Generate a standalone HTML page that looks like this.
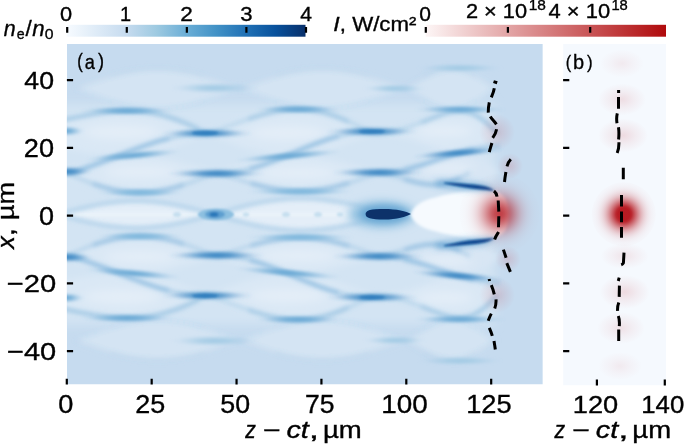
<!DOCTYPE html>
<html><head><meta charset="utf-8"><style>html,body{margin:0;padding:0;background:#fff;}svg{display:block;}</style></head>
<body><svg width="685" height="444" viewBox="0 0 685 444" font-family="Liberation Sans, sans-serif">
<defs><linearGradient id="gBlues" x1="0" x2="1" y1="0" y2="0">
<stop offset="0" stop-color="#f7fbff"/><stop offset="0.125" stop-color="#deebf7"/><stop offset="0.25" stop-color="#c6dbef"/>
<stop offset="0.375" stop-color="#9ecae1"/><stop offset="0.5" stop-color="#6baed6"/><stop offset="0.625" stop-color="#4292c6"/>
<stop offset="0.75" stop-color="#2171b5"/><stop offset="0.875" stop-color="#08519c"/><stop offset="1" stop-color="#08306b"/></linearGradient><linearGradient id="gReds" x1="0" x2="1" y1="0" y2="0">
<stop offset="0" stop-color="#fdf6f6"/><stop offset="1" stop-color="#b00a0c"/></linearGradient><clipPath id="clipA"><rect x="66.9" y="44.0" width="475.9" height="340.5"/></clipPath><clipPath id="clipB"><rect x="563.1" y="44.0" width="102.9" height="341.5"/></clipPath><filter id="bl5" x="-50%" y="-50%" width="200%" height="200%"><feGaussianBlur stdDeviation="5"/></filter><filter id="bl3" x="-50%" y="-50%" width="200%" height="200%"><feGaussianBlur stdDeviation="3"/></filter><filter id="bl2" x="-50%" y="-50%" width="200%" height="200%"><feGaussianBlur stdDeviation="2"/></filter><filter id="bl15" x="-50%" y="-50%" width="200%" height="200%"><feGaussianBlur stdDeviation="1.5"/></filter><filter id="bl1" x="-50%" y="-50%" width="200%" height="200%"><feGaussianBlur stdDeviation="1.1"/></filter><filter id="bl08" x="-50%" y="-50%" width="200%" height="200%"><feGaussianBlur stdDeviation="0.7"/></filter><radialGradient id="gRedA"><stop offset="0.000" stop-color="#b20a12" stop-opacity="0.780"/><stop offset="0.062" stop-color="#b20a12" stop-opacity="0.765"/><stop offset="0.125" stop-color="#b20a12" stop-opacity="0.720"/><stop offset="0.188" stop-color="#b20a12" stop-opacity="0.652"/><stop offset="0.250" stop-color="#b20a12" stop-opacity="0.566"/><stop offset="0.312" stop-color="#b20a12" stop-opacity="0.473"/><stop offset="0.375" stop-color="#b20a12" stop-opacity="0.380"/><stop offset="0.438" stop-color="#b20a12" stop-opacity="0.293"/><stop offset="0.500" stop-color="#b20a12" stop-opacity="0.217"/><stop offset="0.562" stop-color="#b20a12" stop-opacity="0.154"/><stop offset="0.625" stop-color="#b20a12" stop-opacity="0.106"/><stop offset="0.688" stop-color="#b20a12" stop-opacity="0.069"/><stop offset="0.750" stop-color="#b20a12" stop-opacity="0.044"/><stop offset="0.812" stop-color="#b20a12" stop-opacity="0.027"/><stop offset="0.875" stop-color="#b20a12" stop-opacity="0.015"/><stop offset="0.938" stop-color="#b20a12" stop-opacity="0.009"/><stop offset="1.000" stop-color="#b20a12" stop-opacity="0.005"/></radialGradient><radialGradient id="gRedF"><stop offset="0" stop-color="#c8141e" stop-opacity="0.14"/><stop offset="1" stop-color="#c8141e" stop-opacity="0"/></radialGradient><radialGradient id="gM"><stop offset="0" stop-color="#6aa9d5"/><stop offset="0.3" stop-color="#6aa9d5" stop-opacity="0.8"/><stop offset="0.6" stop-color="#6aa9d5" stop-opacity="0.35"/><stop offset="0.8" stop-color="#6aa9d5" stop-opacity="0.1"/><stop offset="1" stop-color="#6aa9d5" stop-opacity="0"/></radialGradient><radialGradient id="gD"><stop offset="0" stop-color="#3d88c4"/><stop offset="0.3" stop-color="#3d88c4" stop-opacity="0.8"/><stop offset="0.6" stop-color="#3d88c4" stop-opacity="0.35"/><stop offset="0.8" stop-color="#3d88c4" stop-opacity="0.1"/><stop offset="1" stop-color="#3d88c4" stop-opacity="0"/></radialGradient><radialGradient id="gL"><stop offset="0" stop-color="#7fb8dd"/><stop offset="0.3" stop-color="#7fb8dd" stop-opacity="0.8"/><stop offset="0.6" stop-color="#7fb8dd" stop-opacity="0.35"/><stop offset="0.8" stop-color="#7fb8dd" stop-opacity="0.1"/><stop offset="1" stop-color="#7fb8dd" stop-opacity="0"/></radialGradient><radialGradient id="gF"><stop offset="0" stop-color="#a3cbe5"/><stop offset="0.3" stop-color="#a3cbe5" stop-opacity="0.8"/><stop offset="0.6" stop-color="#a3cbe5" stop-opacity="0.35"/><stop offset="0.8" stop-color="#a3cbe5" stop-opacity="0.1"/><stop offset="1" stop-color="#a3cbe5" stop-opacity="0"/></radialGradient><radialGradient id="gRedB"><stop offset="0.000" stop-color="#b20a12" stop-opacity="0.930"/><stop offset="0.062" stop-color="#b20a12" stop-opacity="0.930"/><stop offset="0.125" stop-color="#b20a12" stop-opacity="0.930"/><stop offset="0.188" stop-color="#b20a12" stop-opacity="0.930"/><stop offset="0.250" stop-color="#b20a12" stop-opacity="0.870"/><stop offset="0.312" stop-color="#b20a12" stop-opacity="0.737"/><stop offset="0.375" stop-color="#b20a12" stop-opacity="0.601"/><stop offset="0.438" stop-color="#b20a12" stop-opacity="0.473"/><stop offset="0.500" stop-color="#b20a12" stop-opacity="0.358"/><stop offset="0.562" stop-color="#b20a12" stop-opacity="0.262"/><stop offset="0.625" stop-color="#b20a12" stop-opacity="0.184"/><stop offset="0.688" stop-color="#b20a12" stop-opacity="0.125"/><stop offset="0.750" stop-color="#b20a12" stop-opacity="0.082"/><stop offset="0.812" stop-color="#b20a12" stop-opacity="0.051"/><stop offset="0.875" stop-color="#b20a12" stop-opacity="0.031"/><stop offset="0.938" stop-color="#b20a12" stop-opacity="0.018"/><stop offset="1.000" stop-color="#b20a12" stop-opacity="0.010"/></radialGradient><radialGradient id="gRedBF"><stop offset="0" stop-color="#c0202a" stop-opacity="0.16"/><stop offset="0.5" stop-color="#c0202a" stop-opacity="0.07"/><stop offset="1" stop-color="#c0202a" stop-opacity="0"/></radialGradient></defs>
<rect width="685" height="444" fill="#fff"/>
<rect x="66.8" y="24.8" width="238.7" height="11.9" fill="url(#gBlues)"/><rect x="425.7" y="24.8" width="240.3" height="11.9" fill="url(#gReds)"/>
<g clip-path="url(#clipA)"><rect x="66.9" y="44.0" width="475.9" height="340.5" fill="#c6dbef"/><g filter="url(#bl5)"><rect x="50" y="104" width="445" height="220.8" fill="#d3e4f3"/></g><g filter="url(#bl3)"><path d="M75.0,88.0 L80.9,85.9 L86.8,83.8 L92.7,81.7 L98.6,79.8 L104.5,77.9 L110.4,76.2 L116.2,74.6 L122.1,73.1 L128.0,71.9 L133.9,70.9 L139.8,70.1 L145.7,69.5 L151.6,69.1 L157.5,69.0 L163.4,69.1 L169.3,69.5 L175.2,70.1 L181.1,70.9 L187.0,71.9 L192.9,73.1 L198.8,74.6 L204.6,76.2 L210.5,77.9 L216.4,79.8 L222.3,81.7 L228.2,83.8 L234.1,85.9 L240.0,88.0 L240.0,88.0 L234.1,90.4 L228.2,92.7 L222.3,94.9 L216.4,97.1 L210.5,99.2 L204.6,101.1 L198.8,102.8 L192.9,104.4 L187.0,105.8 L181.1,106.9 L175.2,107.8 L169.3,108.5 L163.4,108.9 L157.5,109.0 L151.6,108.9 L145.7,108.5 L139.8,107.8 L133.9,106.9 L128.0,105.8 L122.1,104.4 L116.2,102.8 L110.4,101.1 L104.5,99.2 L98.6,97.1 L92.7,94.9 L86.8,92.7 L80.9,90.4 L75.0,88.0 Z" fill="#d4e4f3"/><path d="M75.0,340.8 L80.9,342.9 L86.8,345.0 L92.7,347.1 L98.6,349.0 L104.5,350.9 L110.4,352.6 L116.2,354.2 L122.1,355.7 L128.0,356.9 L133.9,357.9 L139.8,358.7 L145.7,359.3 L151.6,359.7 L157.5,359.8 L163.4,359.7 L169.3,359.3 L175.2,358.7 L181.1,357.9 L187.0,356.9 L192.9,355.7 L198.8,354.2 L204.6,352.6 L210.5,350.9 L216.4,349.0 L222.3,347.1 L228.2,345.0 L234.1,342.9 L240.0,340.8 L240.0,340.8 L234.1,338.4 L228.2,336.1 L222.3,333.9 L216.4,331.7 L210.5,329.6 L204.6,327.7 L198.8,326.0 L192.9,324.4 L187.0,323.0 L181.1,321.9 L175.2,321.0 L169.3,320.3 L163.4,319.9 L157.5,319.8 L151.6,319.9 L145.7,320.3 L139.8,321.0 L133.9,321.9 L128.0,323.0 L122.1,324.4 L116.2,326.0 L110.4,327.7 L104.5,329.6 L98.6,331.7 L92.7,333.9 L86.8,336.1 L80.9,338.4 L75.0,340.8 Z" fill="#d4e4f3"/><path d="M240.0,88.0 L245.9,85.9 L251.8,83.8 L257.7,81.7 L263.6,79.8 L269.5,77.9 L275.4,76.2 L281.2,74.6 L287.1,73.1 L293.0,71.9 L298.9,70.9 L304.8,70.1 L310.7,69.5 L316.6,69.1 L322.5,69.0 L328.4,69.1 L334.3,69.5 L340.2,70.1 L346.1,70.9 L352.0,71.9 L357.9,73.1 L363.8,74.6 L369.6,76.2 L375.5,77.9 L381.4,79.8 L387.3,81.7 L393.2,83.8 L399.1,85.9 L405.0,88.0 L405.0,88.0 L399.1,90.4 L393.2,92.7 L387.3,94.9 L381.4,97.1 L375.5,99.2 L369.6,101.1 L363.8,102.8 L357.9,104.4 L352.0,105.8 L346.1,106.9 L340.2,107.8 L334.3,108.5 L328.4,108.9 L322.5,109.0 L316.6,108.9 L310.7,108.5 L304.8,107.8 L298.9,106.9 L293.0,105.8 L287.1,104.4 L281.2,102.8 L275.4,101.1 L269.5,99.2 L263.6,97.1 L257.7,94.9 L251.8,92.7 L245.9,90.4 L240.0,88.0 Z" fill="#d4e4f3"/><path d="M240.0,340.8 L245.9,342.9 L251.8,345.0 L257.7,347.1 L263.6,349.0 L269.5,350.9 L275.4,352.6 L281.2,354.2 L287.1,355.7 L293.0,356.9 L298.9,357.9 L304.8,358.7 L310.7,359.3 L316.6,359.7 L322.5,359.8 L328.4,359.7 L334.3,359.3 L340.2,358.7 L346.1,357.9 L352.0,356.9 L357.9,355.7 L363.8,354.2 L369.6,352.6 L375.5,350.9 L381.4,349.0 L387.3,347.1 L393.2,345.0 L399.1,342.9 L405.0,340.8 L405.0,340.8 L399.1,338.4 L393.2,336.1 L387.3,333.9 L381.4,331.7 L375.5,329.6 L369.6,327.7 L363.8,326.0 L357.9,324.4 L352.0,323.0 L346.1,321.9 L340.2,321.0 L334.3,320.3 L328.4,319.9 L322.5,319.8 L316.6,319.9 L310.7,320.3 L304.8,321.0 L298.9,321.9 L293.0,323.0 L287.1,324.4 L281.2,326.0 L275.4,327.7 L269.5,329.6 L263.6,331.7 L257.7,333.9 L251.8,336.1 L245.9,338.4 L240.0,340.8 Z" fill="#d4e4f3"/><path d="M405.0,88.0 L408.2,86.7 L411.4,85.2 L414.6,83.6 L417.9,81.9 L421.1,80.1 L424.3,78.5 L427.5,76.8 L430.7,75.3 L433.9,73.8 L437.1,72.5 L440.4,71.4 L443.6,70.5 L446.8,69.7 L450.0,69.3 L453.2,69.0 L456.4,69.0 L459.6,69.3 L462.9,69.9 L466.1,70.8 L469.3,71.9 L472.5,73.2 L475.7,74.8 L478.9,76.6 L482.1,78.7 L485.4,80.8 L488.6,83.1 L491.8,85.5 L495.0,88.0 L495.0,88.0 L491.8,90.7 L488.6,93.4 L485.4,95.9 L482.1,98.3 L478.9,100.6 L475.7,102.6 L472.5,104.3 L469.3,105.8 L466.1,107.1 L462.9,108.0 L459.6,108.6 L456.4,108.9 L453.2,109.0 L450.0,108.7 L446.8,108.2 L443.6,107.4 L440.4,106.4 L437.1,105.1 L433.9,103.7 L430.7,102.1 L427.5,100.4 L424.3,98.6 L421.1,96.7 L417.9,94.8 L414.6,92.9 L411.4,91.1 L408.2,89.4 L405.0,88.0 Z" fill="#d4e4f3"/><path d="M405.0,340.8 L408.2,342.1 L411.4,343.6 L414.6,345.2 L417.9,346.9 L421.1,348.7 L424.3,350.3 L427.5,352.0 L430.7,353.5 L433.9,355.0 L437.1,356.3 L440.4,357.4 L443.6,358.3 L446.8,359.1 L450.0,359.5 L453.2,359.8 L456.4,359.8 L459.6,359.5 L462.9,358.9 L466.1,358.0 L469.3,356.9 L472.5,355.6 L475.7,354.0 L478.9,352.2 L482.1,350.1 L485.4,348.0 L488.6,345.7 L491.8,343.3 L495.0,340.8 L495.0,340.8 L491.8,338.1 L488.6,335.4 L485.4,332.9 L482.1,330.5 L478.9,328.2 L475.7,326.2 L472.5,324.5 L469.3,323.0 L466.1,321.7 L462.9,320.8 L459.6,320.2 L456.4,319.9 L453.2,319.8 L450.0,320.1 L446.8,320.6 L443.6,321.4 L440.4,322.4 L437.1,323.7 L433.9,325.1 L430.7,326.7 L427.5,328.4 L424.3,330.2 L421.1,332.1 L417.9,334.0 L414.6,335.9 L411.4,337.7 L408.2,339.4 L405.0,340.8 Z" fill="#d4e4f3"/><path d="M-20.0,133.3 L-11.9,132.7 L-3.8,131.8 L4.3,130.6 L12.4,129.2 L20.5,127.7 L28.6,126.0 L36.8,124.3 L44.9,122.5 L53.0,120.8 L61.1,119.0 L69.2,117.4 L77.3,115.8 L85.4,114.4 L93.5,113.2 L101.6,112.3 L109.7,111.6 L117.8,111.3 L125.9,111.4 L134.0,111.8 L142.1,112.7 L150.2,114.0 L158.4,115.7 L166.5,117.8 L174.6,120.4 L182.7,123.2 L190.8,126.4 L198.9,129.8 L207.0,133.3 L207.0,133.3 L198.9,136.8 L190.8,140.2 L182.7,143.4 L174.6,146.2 L166.5,148.8 L158.4,150.9 L150.2,152.6 L142.1,153.9 L134.0,154.8 L125.9,155.2 L117.8,155.3 L109.7,155.0 L101.6,154.3 L93.5,153.4 L85.4,152.2 L77.3,150.8 L69.2,149.2 L61.1,147.6 L53.0,145.8 L44.9,144.1 L36.8,142.3 L28.6,140.6 L20.5,138.9 L12.4,137.4 L4.3,136.0 L-3.8,134.8 L-11.9,133.9 L-20.0,133.3 Z" fill="#dae8f5"/><path d="M-20.0,295.5 L-11.9,296.1 L-3.8,297.0 L4.3,298.2 L12.4,299.6 L20.5,301.1 L28.6,302.8 L36.8,304.5 L44.9,306.3 L53.0,308.0 L61.1,309.8 L69.2,311.4 L77.3,313.0 L85.4,314.4 L93.5,315.6 L101.6,316.5 L109.7,317.2 L117.8,317.5 L125.9,317.4 L134.0,317.0 L142.1,316.1 L150.2,314.8 L158.4,313.1 L166.5,311.0 L174.6,308.4 L182.7,305.6 L190.8,302.4 L198.9,299.0 L207.0,295.5 L207.0,295.5 L198.9,292.0 L190.8,288.6 L182.7,285.4 L174.6,282.6 L166.5,280.0 L158.4,277.9 L150.2,276.2 L142.1,274.9 L134.0,274.0 L125.9,273.6 L117.8,273.5 L109.7,273.8 L101.6,274.5 L93.5,275.4 L85.4,276.6 L77.3,278.0 L69.2,279.6 L61.1,281.2 L53.0,283.0 L44.9,284.7 L36.8,286.5 L28.6,288.2 L20.5,289.9 L12.4,291.4 L4.3,292.8 L-3.8,294.0 L-11.9,294.9 L-20.0,295.5 Z" fill="#dae8f5"/><path d="M207.0,133.3 L212.9,130.6 L218.8,128.0 L224.7,125.4 L230.6,122.9 L236.5,120.5 L242.4,118.3 L248.2,116.3 L254.1,114.5 L260.0,113.0 L265.9,111.7 L271.8,110.6 L277.7,109.9 L283.6,109.5 L289.5,109.3 L295.4,109.5 L301.3,109.9 L307.2,110.6 L313.1,111.7 L319.0,113.0 L324.9,114.5 L330.8,116.3 L336.6,118.3 L342.5,120.5 L348.4,122.9 L354.3,125.4 L360.2,128.0 L366.1,130.6 L372.0,133.3 L372.0,133.3 L366.1,135.8 L360.2,138.2 L354.3,140.6 L348.4,142.8 L342.5,145.0 L336.6,147.0 L330.8,148.9 L324.9,150.5 L319.0,151.9 L313.1,153.1 L307.2,154.1 L301.3,154.7 L295.4,155.2 L289.5,155.3 L283.6,155.2 L277.7,154.7 L271.8,154.1 L265.9,153.1 L260.0,151.9 L254.1,150.5 L248.2,148.9 L242.4,147.0 L236.5,145.0 L230.6,142.8 L224.7,140.6 L218.8,138.2 L212.9,135.8 L207.0,133.3 Z" fill="#dae8f5"/><path d="M207.0,295.5 L212.9,298.2 L218.8,300.8 L224.7,303.4 L230.6,305.9 L236.5,308.3 L242.4,310.5 L248.2,312.5 L254.1,314.3 L260.0,315.8 L265.9,317.1 L271.8,318.2 L277.7,318.9 L283.6,319.3 L289.5,319.5 L295.4,319.3 L301.3,318.9 L307.2,318.2 L313.1,317.1 L319.0,315.8 L324.9,314.3 L330.8,312.5 L336.6,310.5 L342.5,308.3 L348.4,305.9 L354.3,303.4 L360.2,300.8 L366.1,298.2 L372.0,295.5 L372.0,295.5 L366.1,293.0 L360.2,290.6 L354.3,288.2 L348.4,286.0 L342.5,283.8 L336.6,281.8 L330.8,279.9 L324.9,278.3 L319.0,276.9 L313.1,275.7 L307.2,274.7 L301.3,274.1 L295.4,273.6 L289.5,273.5 L283.6,273.6 L277.7,274.1 L271.8,274.7 L265.9,275.7 L260.0,276.9 L254.1,278.3 L248.2,279.9 L242.4,281.8 L236.5,283.8 L230.6,286.0 L224.7,288.2 L218.8,290.6 L212.9,293.0 L207.0,295.5 Z" fill="#dae8f5"/><path d="M372.0,133.3 L376.5,133.2 L380.9,132.9 L385.4,132.3 L389.9,131.6 L394.3,130.7 L398.8,129.5 L403.2,128.2 L407.7,126.8 L412.2,125.2 L416.6,123.4 L421.1,121.6 L425.6,119.6 L430.0,117.7 L434.5,115.8 L439.0,114.0 L443.4,112.4 L447.9,111.0 L452.4,110.0 L456.8,109.4 L461.3,109.3 L465.8,109.9 L470.2,111.2 L474.7,113.1 L479.1,115.9 L483.6,119.3 L488.1,123.5 L492.5,128.2 L497.0,133.3 L497.0,133.3 L492.5,137.6 L488.1,141.5 L483.6,144.9 L479.1,147.8 L474.7,150.1 L470.2,151.8 L465.8,152.8 L461.3,153.3 L456.8,153.2 L452.4,152.7 L447.9,151.9 L443.4,150.7 L439.0,149.4 L434.5,147.9 L430.0,146.3 L425.6,144.7 L421.1,143.1 L416.6,141.5 L412.2,140.1 L407.7,138.7 L403.2,137.5 L398.8,136.4 L394.3,135.5 L389.9,134.7 L385.4,134.1 L380.9,133.7 L376.5,133.4 L372.0,133.3 Z" fill="#dae8f5"/><path d="M372.0,295.5 L376.5,295.6 L380.9,295.9 L385.4,296.5 L389.9,297.2 L394.3,298.1 L398.8,299.3 L403.2,300.6 L407.7,302.0 L412.2,303.6 L416.6,305.4 L421.1,307.2 L425.6,309.2 L430.0,311.1 L434.5,313.0 L439.0,314.8 L443.4,316.4 L447.9,317.8 L452.4,318.8 L456.8,319.4 L461.3,319.5 L465.8,318.9 L470.2,317.6 L474.7,315.7 L479.1,312.9 L483.6,309.5 L488.1,305.3 L492.5,300.6 L497.0,295.5 L497.0,295.5 L492.5,291.2 L488.1,287.3 L483.6,283.9 L479.1,281.0 L474.7,278.7 L470.2,277.0 L465.8,276.0 L461.3,275.5 L456.8,275.6 L452.4,276.1 L447.9,276.9 L443.4,278.1 L439.0,279.4 L434.5,280.9 L430.0,282.5 L425.6,284.1 L421.1,285.7 L416.6,287.3 L412.2,288.7 L407.7,290.1 L403.2,291.3 L398.8,292.4 L394.3,293.3 L389.9,294.1 L385.4,294.7 L380.9,295.1 L376.5,295.4 L372.0,295.5 Z" fill="#dae8f5"/><path d="M58.0,172.8 L63.6,170.9 L69.3,169.0 L74.9,167.2 L80.6,165.4 L86.2,163.8 L91.9,162.2 L97.5,160.8 L103.1,159.5 L108.8,158.4 L114.4,157.5 L120.1,156.8 L125.7,156.2 L131.4,155.9 L137.0,155.8 L142.6,155.9 L148.3,156.2 L153.9,156.8 L159.6,157.5 L165.2,158.4 L170.9,159.5 L176.5,160.8 L182.1,162.2 L187.8,163.8 L193.4,165.4 L199.1,167.2 L204.7,169.0 L210.4,170.9 L216.0,172.8 L216.0,172.8 L210.4,175.0 L204.7,177.3 L199.1,179.4 L193.4,181.5 L187.8,183.4 L182.1,185.3 L176.5,186.9 L170.9,188.4 L165.2,189.7 L159.6,190.8 L153.9,191.7 L148.3,192.3 L142.6,192.7 L137.0,192.8 L131.4,192.7 L125.7,192.3 L120.1,191.7 L114.4,190.8 L108.8,189.7 L103.1,188.4 L97.5,186.9 L91.9,185.3 L86.2,183.4 L80.6,181.5 L74.9,179.4 L69.3,177.3 L63.6,175.0 L58.0,172.8 Z" fill="#dae8f5"/><path d="M58.0,256.0 L63.6,257.9 L69.3,259.8 L74.9,261.6 L80.6,263.4 L86.2,265.0 L91.9,266.6 L97.5,268.0 L103.1,269.3 L108.8,270.4 L114.4,271.3 L120.1,272.0 L125.7,272.6 L131.4,272.9 L137.0,273.0 L142.6,272.9 L148.3,272.6 L153.9,272.0 L159.6,271.3 L165.2,270.4 L170.9,269.3 L176.5,268.0 L182.1,266.6 L187.8,265.0 L193.4,263.4 L199.1,261.6 L204.7,259.8 L210.4,257.9 L216.0,256.0 L216.0,256.0 L210.4,253.8 L204.7,251.5 L199.1,249.4 L193.4,247.3 L187.8,245.4 L182.1,243.5 L176.5,241.9 L170.9,240.4 L165.2,239.1 L159.6,238.0 L153.9,237.1 L148.3,236.5 L142.6,236.1 L137.0,236.0 L131.4,236.1 L125.7,236.5 L120.1,237.1 L114.4,238.0 L108.8,239.1 L103.1,240.4 L97.5,241.9 L91.9,243.5 L86.2,245.4 L80.6,247.3 L74.9,249.4 L69.3,251.5 L63.6,253.8 L58.0,256.0 Z" fill="#dae8f5"/><path d="M216.0,173.3 L221.8,170.9 L227.6,168.7 L233.4,166.6 L239.1,164.7 L244.9,162.9 L250.7,161.3 L256.5,159.8 L262.3,158.5 L268.1,157.5 L273.9,156.6 L279.6,156.0 L285.4,155.5 L291.2,155.3 L297.0,155.3 L302.8,155.6 L308.6,156.0 L314.4,156.7 L320.1,157.5 L325.9,158.5 L331.7,159.7 L337.5,161.1 L343.3,162.6 L349.1,164.2 L354.9,165.9 L360.6,167.7 L366.4,169.5 L372.2,171.4 L378.0,173.3 L378.0,173.3 L372.2,175.3 L366.4,177.2 L360.6,179.1 L354.9,180.9 L349.1,182.7 L343.3,184.3 L337.5,185.9 L331.7,187.3 L325.9,188.5 L320.1,189.5 L314.4,190.4 L308.6,191.1 L302.8,191.5 L297.0,191.8 L291.2,191.8 L285.4,191.6 L279.6,191.1 L273.9,190.5 L268.1,189.6 L262.3,188.5 L256.5,187.2 L250.7,185.7 L244.9,184.0 L239.1,182.2 L233.4,180.2 L227.6,178.1 L221.8,175.8 L216.0,173.3 Z" fill="#dae8f5"/><path d="M216.0,255.5 L221.8,257.9 L227.6,260.1 L233.4,262.2 L239.1,264.1 L244.9,265.9 L250.7,267.5 L256.5,269.0 L262.3,270.3 L268.1,271.3 L273.9,272.2 L279.6,272.8 L285.4,273.3 L291.2,273.5 L297.0,273.5 L302.8,273.2 L308.6,272.8 L314.4,272.1 L320.1,271.3 L325.9,270.3 L331.7,269.1 L337.5,267.7 L343.3,266.2 L349.1,264.6 L354.9,262.9 L360.6,261.1 L366.4,259.3 L372.2,257.4 L378.0,255.5 L378.0,255.5 L372.2,253.5 L366.4,251.6 L360.6,249.7 L354.9,247.9 L349.1,246.1 L343.3,244.5 L337.5,242.9 L331.7,241.5 L325.9,240.3 L320.1,239.3 L314.4,238.4 L308.6,237.7 L302.8,237.3 L297.0,237.0 L291.2,237.0 L285.4,237.2 L279.6,237.7 L273.9,238.3 L268.1,239.2 L262.3,240.3 L256.5,241.6 L250.7,243.1 L244.9,244.8 L239.1,246.6 L233.4,248.6 L227.6,250.7 L221.8,253.0 L216.0,255.5 Z" fill="#dae8f5"/><path d="M378.0,172.8 L382.4,172.7 L386.7,172.3 L391.1,171.7 L395.4,171.0 L399.8,170.1 L404.1,169.1 L408.5,167.9 L412.9,166.6 L417.2,165.3 L421.6,163.8 L425.9,162.3 L430.3,160.8 L434.6,159.3 L439.0,157.9 L443.4,156.6 L447.7,155.5 L452.1,154.6 L456.4,154.0 L460.8,153.8 L465.1,154.0 L469.5,154.7 L473.9,155.8 L478.2,157.5 L482.6,159.7 L486.9,162.4 L491.3,165.5 L495.6,169.0 L500.0,172.8 L500.0,172.8 L495.6,174.8 L491.3,176.6 L486.9,178.3 L482.6,179.7 L478.2,180.8 L473.9,181.7 L469.5,182.3 L465.1,182.7 L460.8,182.8 L456.4,182.7 L452.1,182.4 L447.7,181.9 L443.4,181.3 L439.0,180.7 L434.6,179.9 L430.3,179.1 L425.9,178.3 L421.6,177.5 L417.2,176.8 L412.9,176.0 L408.5,175.4 L404.1,174.8 L399.8,174.2 L395.4,173.7 L391.1,173.4 L386.7,173.1 L382.4,172.9 L378.0,172.8 Z" fill="#d8e6f4"/><path d="M378.0,256.0 L382.4,256.1 L386.7,256.5 L391.1,257.1 L395.4,257.8 L399.8,258.7 L404.1,259.7 L408.5,260.9 L412.9,262.2 L417.2,263.5 L421.6,265.0 L425.9,266.5 L430.3,268.0 L434.6,269.5 L439.0,270.9 L443.4,272.2 L447.7,273.3 L452.1,274.2 L456.4,274.8 L460.8,275.0 L465.1,274.8 L469.5,274.1 L473.9,273.0 L478.2,271.3 L482.6,269.1 L486.9,266.4 L491.3,263.3 L495.6,259.8 L500.0,256.0 L500.0,256.0 L495.6,254.0 L491.3,252.2 L486.9,250.5 L482.6,249.1 L478.2,248.0 L473.9,247.1 L469.5,246.5 L465.1,246.1 L460.8,246.0 L456.4,246.1 L452.1,246.4 L447.7,246.9 L443.4,247.5 L439.0,248.1 L434.6,248.9 L430.3,249.7 L425.9,250.5 L421.6,251.3 L417.2,252.0 L412.9,252.8 L408.5,253.4 L404.1,254.0 L399.8,254.6 L395.4,255.1 L391.1,255.4 L386.7,255.7 L382.4,255.9 L378.0,256.0 Z" fill="#d8e6f4"/><path d="M58.0,214.4 L63.6,212.9 L69.1,211.4 L74.7,209.9 L80.3,208.5 L85.9,207.2 L91.4,206.0 L97.0,204.9 L102.6,203.8 L108.1,203.0 L113.7,202.2 L119.3,201.7 L124.9,201.2 L130.4,201.0 L136.0,200.9 L141.6,201.0 L147.1,201.2 L152.7,201.7 L158.3,202.2 L163.9,203.0 L169.4,203.8 L175.0,204.9 L180.6,206.0 L186.1,207.2 L191.7,208.5 L197.3,209.9 L202.9,211.4 L208.4,212.9 L214.0,214.4 L214.0,214.4 L208.4,215.9 L202.9,217.4 L197.3,218.9 L191.7,220.3 L186.1,221.6 L180.6,222.8 L175.0,223.9 L169.4,225.0 L163.9,225.8 L158.3,226.6 L152.7,227.1 L147.1,227.6 L141.6,227.8 L136.0,227.9 L130.4,227.8 L124.9,227.6 L119.3,227.1 L113.7,226.6 L108.1,225.8 L102.6,225.0 L97.0,223.9 L91.4,222.8 L85.9,221.6 L80.3,220.3 L74.7,218.9 L69.1,217.4 L63.6,215.9 L58.0,214.4 Z" fill="#e4eef8"/><path d="M214.0,214.4 L220.2,212.6 L226.4,210.8 L232.6,209.1 L238.9,207.5 L245.1,205.9 L251.3,204.4 L257.5,203.1 L263.7,201.9 L269.9,200.9 L276.1,200.0 L282.4,199.3 L288.6,198.8 L294.8,198.5 L301.0,198.4 L307.2,198.5 L313.4,198.8 L319.6,199.3 L325.9,200.0 L332.1,200.9 L338.3,201.9 L344.5,203.1 L350.7,204.4 L356.9,205.9 L363.1,207.5 L369.4,209.1 L375.6,210.8 L381.8,212.6 L388.0,214.4 L388.0,214.4 L381.8,216.2 L375.6,218.0 L369.4,219.7 L363.1,221.3 L356.9,222.9 L350.7,224.4 L344.5,225.7 L338.3,226.9 L332.1,227.9 L325.9,228.8 L319.6,229.5 L313.4,230.0 L307.2,230.3 L301.0,230.4 L294.8,230.3 L288.6,230.0 L282.4,229.5 L276.1,228.8 L269.9,227.9 L263.7,226.9 L257.5,225.7 L251.3,224.4 L245.1,222.9 L238.9,221.3 L232.6,219.7 L226.4,218.0 L220.2,216.2 L214.0,214.4 Z" fill="#e4eef8"/><path d="M-100.0,214.4 L-94.4,213.1 L-88.7,211.7 L-83.1,210.4 L-77.4,209.2 L-71.8,208.0 L-66.1,206.9 L-60.5,205.9 L-54.9,205.0 L-49.2,204.2 L-43.6,203.6 L-37.9,203.1 L-32.3,202.7 L-26.6,202.5 L-21.0,202.4 L-15.4,202.5 L-9.7,202.7 L-4.1,203.1 L1.6,203.6 L7.2,204.2 L12.9,205.0 L18.5,205.9 L24.1,206.9 L29.8,208.0 L35.4,209.2 L41.1,210.4 L46.7,211.7 L52.4,213.1 L58.0,214.4 L58.0,214.4 L52.4,215.7 L46.7,217.1 L41.1,218.4 L35.4,219.6 L29.8,220.8 L24.1,221.9 L18.5,222.9 L12.9,223.8 L7.2,224.6 L1.6,225.2 L-4.1,225.7 L-9.7,226.1 L-15.4,226.3 L-21.0,226.4 L-26.6,226.3 L-32.3,226.1 L-37.9,225.7 L-43.6,225.2 L-49.2,224.6 L-54.9,223.8 L-60.5,222.9 L-66.1,221.9 L-71.8,220.8 L-77.4,219.6 L-83.1,218.4 L-88.7,217.1 L-94.4,215.7 L-100.0,214.4 Z" fill="#e4eef8"/></g><g filter="url(#bl5)"><ellipse cx="122.0" cy="132.0" rx="38.0" ry="7.0" fill="#e4eef8"/><ellipse cx="122.0" cy="296.8" rx="38.0" ry="7.0" fill="#e4eef8"/><ellipse cx="288.0" cy="133.0" rx="38.0" ry="7.0" fill="#e4eef8"/><ellipse cx="288.0" cy="295.8" rx="38.0" ry="7.0" fill="#e4eef8"/><ellipse cx="445.0" cy="131.0" rx="28.0" ry="6.0" fill="#e4eef8"/><ellipse cx="445.0" cy="297.8" rx="28.0" ry="6.0" fill="#e4eef8"/><ellipse cx="140.0" cy="172.0" rx="36.0" ry="6.0" fill="#e4eef8"/><ellipse cx="140.0" cy="256.8" rx="36.0" ry="6.0" fill="#e4eef8"/><ellipse cx="298.0" cy="173.0" rx="38.0" ry="6.0" fill="#e4eef8"/><ellipse cx="298.0" cy="255.8" rx="38.0" ry="6.0" fill="#e4eef8"/><ellipse cx="447.0" cy="168.0" rx="26.0" ry="5.0" fill="#e4eef8"/><ellipse cx="447.0" cy="260.8" rx="26.0" ry="5.0" fill="#e4eef8"/></g><g filter="url(#bl15)"><rect x="60" y="212.6" width="300" height="3.6" fill="#f0f6fc" fill-opacity="0.6"/></g><g filter="url(#bl2)" stroke="#5a9fd0" stroke-width="4" fill="none"><path d="M75.0,88.0 L80.9,85.9 L86.8,83.8 L92.7,81.7 L98.6,79.8 L104.5,77.9 L110.4,76.2 L116.2,74.6 L122.1,73.1 L128.0,71.9 L133.9,70.9 L139.8,70.1 L145.7,69.5 L151.6,69.1 L157.5,69.0 L163.4,69.1 L169.3,69.5 L175.2,70.1 L181.1,70.9 L187.0,71.9 L192.9,73.1 L198.8,74.6 L204.6,76.2 L210.5,77.9 L216.4,79.8 L222.3,81.7 L228.2,83.8 L234.1,85.9 L240.0,88.0" stroke-opacity="0.04"/><path d="M75.0,340.8 L80.9,342.9 L86.8,345.0 L92.7,347.1 L98.6,349.0 L104.5,350.9 L110.4,352.6 L116.2,354.2 L122.1,355.7 L128.0,356.9 L133.9,357.9 L139.8,358.7 L145.7,359.3 L151.6,359.7 L157.5,359.8 L163.4,359.7 L169.3,359.3 L175.2,358.7 L181.1,357.9 L187.0,356.9 L192.9,355.7 L198.8,354.2 L204.6,352.6 L210.5,350.9 L216.4,349.0 L222.3,347.1 L228.2,345.0 L234.1,342.9 L240.0,340.8" stroke-opacity="0.04"/><path d="M110.4,76.2 L116.2,74.6 L122.1,73.1 L128.0,71.9 L133.9,70.9 L139.8,70.1 L145.7,69.5 L151.6,69.1 L157.5,69.0 L163.4,69.1 L169.3,69.5 L175.2,70.1 L181.1,70.9 L187.0,71.9 L192.9,73.1 L198.8,74.6 L204.6,76.2" stroke-opacity="0.04" stroke-width="4.5"/><path d="M110.4,352.6 L116.2,354.2 L122.1,355.7 L128.0,356.9 L133.9,357.9 L139.8,358.7 L145.7,359.3 L151.6,359.7 L157.5,359.8 L163.4,359.7 L169.3,359.3 L175.2,358.7 L181.1,357.9 L187.0,356.9 L192.9,355.7 L198.8,354.2 L204.6,352.6" stroke-opacity="0.04" stroke-width="4.5"/><path d="M75.0,88.0 L80.9,90.4 L86.8,92.7 L92.7,94.9 L98.6,97.1 L104.5,99.2 L110.4,101.1 L116.2,102.8 L122.1,104.4 L128.0,105.8 L133.9,106.9 L139.8,107.8 L145.7,108.5 L151.6,108.9 L157.5,109.0 L163.4,108.9 L169.3,108.5 L175.2,107.8 L181.1,106.9 L187.0,105.8 L192.9,104.4 L198.8,102.8 L204.6,101.1 L210.5,99.2 L216.4,97.1 L222.3,94.9 L228.2,92.7 L234.1,90.4 L240.0,88.0" stroke-opacity="0.03"/><path d="M75.0,340.8 L80.9,338.4 L86.8,336.1 L92.7,333.9 L98.6,331.7 L104.5,329.6 L110.4,327.7 L116.2,326.0 L122.1,324.4 L128.0,323.0 L133.9,321.9 L139.8,321.0 L145.7,320.3 L151.6,319.9 L157.5,319.8 L163.4,319.9 L169.3,320.3 L175.2,321.0 L181.1,321.9 L187.0,323.0 L192.9,324.4 L198.8,326.0 L204.6,327.7 L210.5,329.6 L216.4,331.7 L222.3,333.9 L228.2,336.1 L234.1,338.4 L240.0,340.8" stroke-opacity="0.03"/><path d="M110.4,101.1 L116.2,102.8 L122.1,104.4 L128.0,105.8 L133.9,106.9 L139.8,107.8 L145.7,108.5 L151.6,108.9 L157.5,109.0 L163.4,108.9 L169.3,108.5 L175.2,107.8 L181.1,106.9 L187.0,105.8 L192.9,104.4 L198.8,102.8 L204.6,101.1" stroke-opacity="0.03" stroke-width="4.5"/><path d="M110.4,327.7 L116.2,326.0 L122.1,324.4 L128.0,323.0 L133.9,321.9 L139.8,321.0 L145.7,320.3 L151.6,319.9 L157.5,319.8 L163.4,319.9 L169.3,320.3 L175.2,321.0 L181.1,321.9 L187.0,323.0 L192.9,324.4 L198.8,326.0 L204.6,327.7" stroke-opacity="0.03" stroke-width="4.5"/><path d="M240.0,88.0 L245.9,85.9 L251.8,83.8 L257.7,81.7 L263.6,79.8 L269.5,77.9 L275.4,76.2 L281.2,74.6 L287.1,73.1 L293.0,71.9 L298.9,70.9 L304.8,70.1 L310.7,69.5 L316.6,69.1 L322.5,69.0 L328.4,69.1 L334.3,69.5 L340.2,70.1 L346.1,70.9 L352.0,71.9 L357.9,73.1 L363.8,74.6 L369.6,76.2 L375.5,77.9 L381.4,79.8 L387.3,81.7 L393.2,83.8 L399.1,85.9 L405.0,88.0" stroke-opacity="0.04"/><path d="M240.0,340.8 L245.9,342.9 L251.8,345.0 L257.7,347.1 L263.6,349.0 L269.5,350.9 L275.4,352.6 L281.2,354.2 L287.1,355.7 L293.0,356.9 L298.9,357.9 L304.8,358.7 L310.7,359.3 L316.6,359.7 L322.5,359.8 L328.4,359.7 L334.3,359.3 L340.2,358.7 L346.1,357.9 L352.0,356.9 L357.9,355.7 L363.8,354.2 L369.6,352.6 L375.5,350.9 L381.4,349.0 L387.3,347.1 L393.2,345.0 L399.1,342.9 L405.0,340.8" stroke-opacity="0.04"/><path d="M275.4,76.2 L281.2,74.6 L287.1,73.1 L293.0,71.9 L298.9,70.9 L304.8,70.1 L310.7,69.5 L316.6,69.1 L322.5,69.0 L328.4,69.1 L334.3,69.5 L340.2,70.1 L346.1,70.9 L352.0,71.9 L357.9,73.1 L363.8,74.6 L369.6,76.2" stroke-opacity="0.04" stroke-width="4.5"/><path d="M275.4,352.6 L281.2,354.2 L287.1,355.7 L293.0,356.9 L298.9,357.9 L304.8,358.7 L310.7,359.3 L316.6,359.7 L322.5,359.8 L328.4,359.7 L334.3,359.3 L340.2,358.7 L346.1,357.9 L352.0,356.9 L357.9,355.7 L363.8,354.2 L369.6,352.6" stroke-opacity="0.04" stroke-width="4.5"/><path d="M240.0,88.0 L245.9,90.4 L251.8,92.7 L257.7,94.9 L263.6,97.1 L269.5,99.2 L275.4,101.1 L281.2,102.8 L287.1,104.4 L293.0,105.8 L298.9,106.9 L304.8,107.8 L310.7,108.5 L316.6,108.9 L322.5,109.0 L328.4,108.9 L334.3,108.5 L340.2,107.8 L346.1,106.9 L352.0,105.8 L357.9,104.4 L363.8,102.8 L369.6,101.1 L375.5,99.2 L381.4,97.1 L387.3,94.9 L393.2,92.7 L399.1,90.4 L405.0,88.0" stroke-opacity="0.03"/><path d="M240.0,340.8 L245.9,338.4 L251.8,336.1 L257.7,333.9 L263.6,331.7 L269.5,329.6 L275.4,327.7 L281.2,326.0 L287.1,324.4 L293.0,323.0 L298.9,321.9 L304.8,321.0 L310.7,320.3 L316.6,319.9 L322.5,319.8 L328.4,319.9 L334.3,320.3 L340.2,321.0 L346.1,321.9 L352.0,323.0 L357.9,324.4 L363.8,326.0 L369.6,327.7 L375.5,329.6 L381.4,331.7 L387.3,333.9 L393.2,336.1 L399.1,338.4 L405.0,340.8" stroke-opacity="0.03"/><path d="M275.4,101.1 L281.2,102.8 L287.1,104.4 L293.0,105.8 L298.9,106.9 L304.8,107.8 L310.7,108.5 L316.6,108.9 L322.5,109.0 L328.4,108.9 L334.3,108.5 L340.2,107.8 L346.1,106.9 L352.0,105.8 L357.9,104.4 L363.8,102.8 L369.6,101.1" stroke-opacity="0.03" stroke-width="4.5"/><path d="M275.4,327.7 L281.2,326.0 L287.1,324.4 L293.0,323.0 L298.9,321.9 L304.8,321.0 L310.7,320.3 L316.6,319.9 L322.5,319.8 L328.4,319.9 L334.3,320.3 L340.2,321.0 L346.1,321.9 L352.0,323.0 L357.9,324.4 L363.8,326.0 L369.6,327.7" stroke-opacity="0.03" stroke-width="4.5"/><path d="M405.0,88.0 L408.2,85.9 L411.4,83.8 L414.6,81.7 L417.9,79.8 L421.1,77.9 L424.3,76.2 L427.5,74.6 L430.7,73.1 L433.9,71.9 L437.1,70.9 L440.4,70.1 L443.6,69.5 L446.8,69.1 L450.0,69.0 L453.2,69.1 L456.4,69.5 L459.6,70.1 L462.9,70.9 L466.1,71.9 L469.3,73.1 L472.5,74.6 L475.7,76.2 L478.9,77.9 L482.1,79.8 L485.4,81.7 L488.6,83.8 L491.8,85.9 L495.0,88.0" stroke-opacity="0.04"/><path d="M405.0,340.8 L408.2,342.9 L411.4,345.0 L414.6,347.1 L417.9,349.0 L421.1,350.9 L424.3,352.6 L427.5,354.2 L430.7,355.7 L433.9,356.9 L437.1,357.9 L440.4,358.7 L443.6,359.3 L446.8,359.7 L450.0,359.8 L453.2,359.7 L456.4,359.3 L459.6,358.7 L462.9,357.9 L466.1,356.9 L469.3,355.7 L472.5,354.2 L475.7,352.6 L478.9,350.9 L482.1,349.0 L485.4,347.1 L488.6,345.0 L491.8,342.9 L495.0,340.8" stroke-opacity="0.04"/><path d="M424.3,76.2 L427.5,74.6 L430.7,73.1 L433.9,71.9 L437.1,70.9 L440.4,70.1 L443.6,69.5 L446.8,69.1 L450.0,69.0 L453.2,69.1 L456.4,69.5 L459.6,70.1 L462.9,70.9 L466.1,71.9 L469.3,73.1 L472.5,74.6 L475.7,76.2" stroke-opacity="0.04" stroke-width="4.5"/><path d="M424.3,352.6 L427.5,354.2 L430.7,355.7 L433.9,356.9 L437.1,357.9 L440.4,358.7 L443.6,359.3 L446.8,359.7 L450.0,359.8 L453.2,359.7 L456.4,359.3 L459.6,358.7 L462.9,357.9 L466.1,356.9 L469.3,355.7 L472.5,354.2 L475.7,352.6" stroke-opacity="0.04" stroke-width="4.5"/><path d="M405.0,88.0 L408.2,90.4 L411.4,92.7 L414.6,94.9 L417.9,97.1 L421.1,99.2 L424.3,101.1 L427.5,102.8 L430.7,104.4 L433.9,105.8 L437.1,106.9 L440.4,107.8 L443.6,108.5 L446.8,108.9 L450.0,109.0 L453.2,108.9 L456.4,108.5 L459.6,107.8 L462.9,106.9 L466.1,105.8 L469.3,104.4 L472.5,102.8 L475.7,101.1 L478.9,99.2 L482.1,97.1 L485.4,94.9 L488.6,92.7 L491.8,90.4 L495.0,88.0" stroke-opacity="0.03"/><path d="M405.0,340.8 L408.2,338.4 L411.4,336.1 L414.6,333.9 L417.9,331.7 L421.1,329.6 L424.3,327.7 L427.5,326.0 L430.7,324.4 L433.9,323.0 L437.1,321.9 L440.4,321.0 L443.6,320.3 L446.8,319.9 L450.0,319.8 L453.2,319.9 L456.4,320.3 L459.6,321.0 L462.9,321.9 L466.1,323.0 L469.3,324.4 L472.5,326.0 L475.7,327.7 L478.9,329.6 L482.1,331.7 L485.4,333.9 L488.6,336.1 L491.8,338.4 L495.0,340.8" stroke-opacity="0.03"/><path d="M424.3,101.1 L427.5,102.8 L430.7,104.4 L433.9,105.8 L437.1,106.9 L440.4,107.8 L443.6,108.5 L446.8,108.9 L450.0,109.0 L453.2,108.9 L456.4,108.5 L459.6,107.8 L462.9,106.9 L466.1,105.8 L469.3,104.4 L472.5,102.8 L475.7,101.1" stroke-opacity="0.03" stroke-width="4.5"/><path d="M424.3,327.7 L427.5,326.0 L430.7,324.4 L433.9,323.0 L437.1,321.9 L440.4,321.0 L443.6,320.3 L446.8,319.9 L450.0,319.8 L453.2,319.9 L456.4,320.3 L459.6,321.0 L462.9,321.9 L466.1,323.0 L469.3,324.4 L472.5,326.0 L475.7,327.7" stroke-opacity="0.03" stroke-width="4.5"/><path d="M-20.0,133.3 L-11.9,133.0 L-3.8,132.3 L4.3,131.4 L12.4,130.2 L20.5,128.9 L28.6,127.4 L36.8,125.8 L44.9,124.2 L53.0,122.4 L61.1,120.6 L69.2,118.8 L77.3,117.1 L85.4,115.5 L93.5,114.0 L101.6,112.8 L109.7,111.8 L117.8,111.1 L125.9,110.8 L134.0,110.9 L142.1,111.5 L150.2,112.6 L158.4,114.2 L166.5,116.4 L174.6,119.0 L182.7,122.0 L190.8,125.5 L198.9,129.3 L207.0,133.3" stroke-opacity="0.21"/><path d="M-20.0,295.5 L-11.9,295.8 L-3.8,296.5 L4.3,297.4 L12.4,298.6 L20.5,299.9 L28.6,301.4 L36.8,303.0 L44.9,304.6 L53.0,306.4 L61.1,308.2 L69.2,310.0 L77.3,311.7 L85.4,313.3 L93.5,314.8 L101.6,316.0 L109.7,317.0 L117.8,317.7 L125.9,318.0 L134.0,317.9 L142.1,317.3 L150.2,316.2 L158.4,314.6 L166.5,312.4 L174.6,309.8 L182.7,306.8 L190.8,303.3 L198.9,299.5 L207.0,295.5" stroke-opacity="0.21"/><path d="M61.1,120.6 L69.2,118.8 L77.3,117.1 L85.4,115.5 L93.5,114.0 L101.6,112.8 L109.7,111.8 L117.8,111.1 L125.9,110.8 L134.0,110.9 L142.1,111.5 L150.2,112.6 L158.4,114.2 L166.5,116.4 L174.6,119.0 L182.7,122.0 L190.8,125.5 L198.9,129.3" stroke-opacity="0.23" stroke-width="4.5"/><path d="M61.1,308.2 L69.2,310.0 L77.3,311.7 L85.4,313.3 L93.5,314.8 L101.6,316.0 L109.7,317.0 L117.8,317.7 L125.9,318.0 L134.0,317.9 L142.1,317.3 L150.2,316.2 L158.4,314.6 L166.5,312.4 L174.6,309.8 L182.7,306.8 L190.8,303.3 L198.9,299.5" stroke-opacity="0.23" stroke-width="4.5"/><path d="M207.0,133.3 L212.9,131.7 L218.8,129.8 L224.7,127.7 L230.6,125.5 L236.5,123.4 L242.4,121.2 L248.2,119.2 L254.1,117.2 L260.0,115.4 L265.9,113.7 L271.8,112.3 L277.7,111.1 L283.6,110.2 L289.5,109.6 L295.4,109.3 L301.3,109.4 L307.2,109.7 L313.1,110.5 L319.0,111.5 L324.9,112.9 L330.8,114.6 L336.6,116.7 L342.5,119.0 L348.4,121.5 L354.3,124.2 L360.2,127.2 L366.1,130.2 L372.0,133.3" stroke-opacity="0.21"/><path d="M207.0,295.5 L212.9,297.1 L218.8,299.0 L224.7,301.1 L230.6,303.3 L236.5,305.4 L242.4,307.6 L248.2,309.6 L254.1,311.6 L260.0,313.4 L265.9,315.1 L271.8,316.5 L277.7,317.7 L283.6,318.6 L289.5,319.2 L295.4,319.5 L301.3,319.4 L307.2,319.1 L313.1,318.3 L319.0,317.3 L324.9,315.9 L330.8,314.2 L336.6,312.1 L342.5,309.8 L348.4,307.3 L354.3,304.6 L360.2,301.6 L366.1,298.6 L372.0,295.5" stroke-opacity="0.21"/><path d="M248.2,119.2 L254.1,117.2 L260.0,115.4 L265.9,113.7 L271.8,112.3 L277.7,111.1 L283.6,110.2 L289.5,109.6 L295.4,109.3 L301.3,109.4 L307.2,109.7 L313.1,110.5 L319.0,111.5 L324.9,112.9 L330.8,114.6 L336.6,116.7 L342.5,119.0 L348.4,121.5" stroke-opacity="0.23" stroke-width="4.5"/><path d="M248.2,309.6 L254.1,311.6 L260.0,313.4 L265.9,315.1 L271.8,316.5 L277.7,317.7 L283.6,318.6 L289.5,319.2 L295.4,319.5 L301.3,319.4 L307.2,319.1 L313.1,318.3 L319.0,317.3 L324.9,315.9 L330.8,314.2 L336.6,312.1 L342.5,309.8 L348.4,307.3" stroke-opacity="0.23" stroke-width="4.5"/><path d="M372.0,133.3 L376.5,133.2 L380.9,132.9 L385.4,132.4 L389.9,131.7 L394.3,130.9 L398.8,129.9 L403.2,128.7 L407.7,127.3 L412.2,125.8 L416.6,124.2 L421.1,122.5 L425.6,120.8 L430.0,119.0 L434.5,117.3 L439.0,115.6 L443.4,114.1 L447.9,112.9 L452.4,111.9 L456.8,111.4 L461.3,111.3 L465.8,111.9 L470.2,113.0 L474.7,114.8 L479.1,117.3 L483.6,120.5 L488.1,124.3 L492.5,128.6 L497.0,133.3" stroke-opacity="0.21"/><path d="M372.0,295.5 L376.5,295.6 L380.9,295.9 L385.4,296.4 L389.9,297.1 L394.3,297.9 L398.8,298.9 L403.2,300.1 L407.7,301.5 L412.2,303.0 L416.6,304.6 L421.1,306.3 L425.6,308.0 L430.0,309.8 L434.5,311.5 L439.0,313.2 L443.4,314.7 L447.9,315.9 L452.4,316.9 L456.8,317.4 L461.3,317.5 L465.8,316.9 L470.2,315.8 L474.7,314.0 L479.1,311.5 L483.6,308.3 L488.1,304.5 L492.5,300.2 L497.0,295.5" stroke-opacity="0.21"/><path d="M421.1,122.5 L425.6,120.8 L430.0,119.0 L434.5,117.3 L439.0,115.6 L443.4,114.1 L447.9,112.9 L452.4,111.9 L456.8,111.4 L461.3,111.3 L465.8,111.9 L470.2,113.0 L474.7,114.8 L479.1,117.3 L483.6,120.5 L488.1,124.3 L492.5,128.6 L497.0,133.3" stroke-opacity="0.23" stroke-width="4.5"/><path d="M421.1,306.3 L425.6,308.0 L430.0,309.8 L434.5,311.5 L439.0,313.2 L443.4,314.7 L447.9,315.9 L452.4,316.9 L456.8,317.4 L461.3,317.5 L465.8,316.9 L470.2,315.8 L474.7,314.0 L479.1,311.5 L483.6,308.3 L488.1,304.5 L492.5,300.2 L497.0,295.5" stroke-opacity="0.23" stroke-width="4.5"/><path d="M30.0,178.0 L36.3,177.9 L42.6,177.4 L49.0,176.7 L55.3,175.8 L61.6,174.6 L67.9,173.1 L74.2,171.5 L80.6,169.6 L86.9,167.5 L93.2,165.3 L99.5,163.0 L105.9,160.6 L112.2,158.2 L118.5,155.7 L124.8,153.1 L131.1,150.7 L137.5,148.3 L143.8,146.0 L150.1,143.8 L156.4,141.7 L162.8,139.8 L169.1,138.2 L175.4,136.7 L181.7,135.5 L188.0,134.6 L194.4,133.9 L200.7,133.4 L207.0,133.3" stroke-opacity="0.30"/><path d="M30.0,250.8 L36.3,250.9 L42.6,251.4 L49.0,252.1 L55.3,253.0 L61.6,254.2 L67.9,255.7 L74.2,257.3 L80.6,259.2 L86.9,261.3 L93.2,263.5 L99.5,265.8 L105.9,268.2 L112.2,270.6 L118.5,273.1 L124.8,275.7 L131.1,278.1 L137.5,280.5 L143.8,282.8 L150.1,285.0 L156.4,287.1 L162.8,289.0 L169.1,290.6 L175.4,292.1 L181.7,293.3 L188.0,294.2 L194.4,294.9 L200.7,295.4 L207.0,295.5" stroke-opacity="0.30"/><path d="M67.9,173.1 L74.2,171.5 L80.6,169.6 L86.9,167.5 L93.2,165.3 L99.5,163.0 L105.9,160.6 L112.2,158.2 L118.5,155.7 L124.8,153.1 L131.1,150.7 L137.5,148.3 L143.8,146.0 L150.1,143.8 L156.4,141.7 L162.8,139.8 L169.1,138.2" stroke-opacity="0.33" stroke-width="4.5"/><path d="M67.9,255.7 L74.2,257.3 L80.6,259.2 L86.9,261.3 L93.2,263.5 L99.5,265.8 L105.9,268.2 L112.2,270.6 L118.5,273.1 L124.8,275.7 L131.1,278.1 L137.5,280.5 L143.8,282.8 L150.1,285.0 L156.4,287.1 L162.8,289.0 L169.1,290.6" stroke-opacity="0.33" stroke-width="4.5"/><path d="M216.0,173.5 L221.6,173.4 L227.1,173.0 L232.7,172.3 L238.3,171.4 L243.9,170.3 L249.4,168.9 L255.0,167.3 L260.6,165.6 L266.1,163.7 L271.7,161.6 L277.3,159.4 L282.9,157.2 L288.4,154.9 L294.0,152.5 L299.6,150.1 L305.1,147.8 L310.7,145.6 L316.3,143.4 L321.9,141.3 L327.4,139.4 L333.0,137.7 L338.6,136.1 L344.1,134.7 L349.7,133.6 L355.3,132.7 L360.9,132.0 L366.4,131.6 L372.0,131.5" stroke-opacity="0.30"/><path d="M216.0,255.3 L221.6,255.4 L227.1,255.8 L232.7,256.5 L238.3,257.4 L243.9,258.5 L249.4,259.9 L255.0,261.5 L260.6,263.2 L266.1,265.1 L271.7,267.2 L277.3,269.4 L282.9,271.6 L288.4,273.9 L294.0,276.3 L299.6,278.7 L305.1,281.0 L310.7,283.2 L316.3,285.4 L321.9,287.5 L327.4,289.4 L333.0,291.1 L338.6,292.7 L344.1,294.1 L349.7,295.2 L355.3,296.1 L360.9,296.8 L366.4,297.2 L372.0,297.3" stroke-opacity="0.30"/><path d="M249.4,168.9 L255.0,167.3 L260.6,165.6 L266.1,163.7 L271.7,161.6 L277.3,159.4 L282.9,157.2 L288.4,154.9 L294.0,152.5 L299.6,150.1 L305.1,147.8 L310.7,145.6 L316.3,143.4 L321.9,141.3 L327.4,139.4 L333.0,137.7 L338.6,136.1" stroke-opacity="0.33" stroke-width="4.5"/><path d="M249.4,259.9 L255.0,261.5 L260.6,263.2 L266.1,265.1 L271.7,267.2 L277.3,269.4 L282.9,271.6 L288.4,273.9 L294.0,276.3 L299.6,278.7 L305.1,281.0 L310.7,283.2 L316.3,285.4 L321.9,287.5 L327.4,289.4 L333.0,291.1 L338.6,292.7" stroke-opacity="0.33" stroke-width="4.5"/><path d="M378.0,172.5 L382.4,172.4 L386.7,172.2 L391.1,171.8 L395.4,171.2 L399.8,170.5 L404.1,169.6 L408.5,168.6 L412.9,167.5 L417.2,166.3 L421.6,165.0 L425.9,163.6 L430.3,162.2 L434.6,160.7 L439.0,159.2 L443.4,157.8 L447.7,156.3 L452.1,154.9 L456.4,153.5 L460.8,152.2 L465.1,151.0 L469.5,149.9 L473.9,148.9 L478.2,148.0 L482.6,147.3 L486.9,146.7 L491.3,146.3 L495.6,146.1 L500.0,146.0" stroke-opacity="0.30"/><path d="M378.0,256.3 L382.4,256.4 L386.7,256.6 L391.1,257.0 L395.4,257.6 L399.8,258.3 L404.1,259.2 L408.5,260.2 L412.9,261.3 L417.2,262.5 L421.6,263.8 L425.9,265.2 L430.3,266.6 L434.6,268.1 L439.0,269.6 L443.4,271.0 L447.7,272.5 L452.1,273.9 L456.4,275.3 L460.8,276.6 L465.1,277.8 L469.5,278.9 L473.9,279.9 L478.2,280.8 L482.6,281.5 L486.9,282.1 L491.3,282.5 L495.6,282.7 L500.0,282.8" stroke-opacity="0.30"/><path d="M404.1,169.6 L408.5,168.6 L412.9,167.5 L417.2,166.3 L421.6,165.0 L425.9,163.6 L430.3,162.2 L434.6,160.7 L439.0,159.2 L443.4,157.8 L447.7,156.3 L452.1,154.9 L456.4,153.5 L460.8,152.2 L465.1,151.0 L469.5,149.9 L473.9,148.9" stroke-opacity="0.33" stroke-width="4.5"/><path d="M404.1,259.2 L408.5,260.2 L412.9,261.3 L417.2,262.5 L421.6,263.8 L425.9,265.2 L430.3,266.6 L434.6,268.1 L439.0,269.6 L443.4,271.0 L447.7,272.5 L452.1,273.9 L456.4,275.3 L460.8,276.6 L465.1,277.8 L469.5,278.9 L473.9,279.9" stroke-opacity="0.33" stroke-width="4.5"/><path d="M-84.0,172.5 L-78.6,174.6 L-73.3,176.7 L-67.9,178.8 L-62.6,180.7 L-57.2,182.6 L-51.9,184.3 L-46.5,185.9 L-41.1,187.4 L-35.8,188.6 L-30.4,189.6 L-25.1,190.4 L-19.7,191.0 L-14.4,191.4 L-9.0,191.5 L-3.6,191.4 L1.7,191.0 L7.1,190.4 L12.4,189.6 L17.8,188.6 L23.1,187.4 L28.5,185.9 L33.9,184.3 L39.2,182.6 L44.6,180.7 L49.9,178.8 L55.3,176.7 L60.6,174.6 L66.0,172.5" stroke-opacity="0.25"/><path d="M-84.0,256.3 L-78.6,254.2 L-73.3,252.1 L-67.9,250.0 L-62.6,248.1 L-57.2,246.2 L-51.9,244.5 L-46.5,242.9 L-41.1,241.4 L-35.8,240.2 L-30.4,239.2 L-25.1,238.4 L-19.7,237.8 L-14.4,237.4 L-9.0,237.3 L-3.6,237.4 L1.7,237.8 L7.1,238.4 L12.4,239.2 L17.8,240.2 L23.1,241.4 L28.5,242.9 L33.9,244.5 L39.2,246.2 L44.6,248.1 L49.9,250.0 L55.3,252.1 L60.6,254.2 L66.0,256.3" stroke-opacity="0.25"/><path d="M-51.9,184.3 L-46.5,185.9 L-41.1,187.4 L-35.8,188.6 L-30.4,189.6 L-25.1,190.4 L-19.7,191.0 L-14.4,191.4 L-9.0,191.5 L-3.6,191.4 L1.7,191.0 L7.1,190.4 L12.4,189.6 L17.8,188.6 L23.1,187.4 L28.5,185.9 L33.9,184.3" stroke-opacity="0.28" stroke-width="4.5"/><path d="M-51.9,244.5 L-46.5,242.9 L-41.1,241.4 L-35.8,240.2 L-30.4,239.2 L-25.1,238.4 L-19.7,237.8 L-14.4,237.4 L-9.0,237.3 L-3.6,237.4 L1.7,237.8 L7.1,238.4 L12.4,239.2 L17.8,240.2 L23.1,241.4 L28.5,242.9 L33.9,244.5" stroke-opacity="0.28" stroke-width="4.5"/><path d="M66.0,172.5 L71.4,175.0 L76.7,177.3 L82.1,179.5 L87.4,181.6 L92.8,183.6 L98.1,185.4 L103.5,187.1 L108.9,188.5 L114.2,189.8 L119.6,190.8 L124.9,191.6 L130.3,192.1 L135.6,192.4 L141.0,192.5 L146.4,192.3 L151.7,191.9 L157.1,191.2 L162.4,190.3 L167.8,189.2 L173.1,187.9 L178.5,186.4 L183.9,184.7 L189.2,182.9 L194.6,181.0 L199.9,178.9 L205.3,176.8 L210.6,174.7 L216.0,172.5" stroke-opacity="0.25"/><path d="M66.0,256.3 L71.4,253.8 L76.7,251.5 L82.1,249.3 L87.4,247.2 L92.8,245.2 L98.1,243.4 L103.5,241.7 L108.9,240.3 L114.2,239.0 L119.6,238.0 L124.9,237.2 L130.3,236.7 L135.6,236.4 L141.0,236.3 L146.4,236.5 L151.7,236.9 L157.1,237.6 L162.4,238.5 L167.8,239.6 L173.1,240.9 L178.5,242.4 L183.9,244.1 L189.2,245.9 L194.6,247.8 L199.9,249.9 L205.3,252.0 L210.6,254.1 L216.0,256.3" stroke-opacity="0.25"/><path d="M92.8,183.6 L98.1,185.4 L103.5,187.1 L108.9,188.5 L114.2,189.8 L119.6,190.8 L124.9,191.6 L130.3,192.1 L135.6,192.4 L141.0,192.5 L146.4,192.3 L151.7,191.9 L157.1,191.2 L162.4,190.3 L167.8,189.2 L173.1,187.9 L178.5,186.4 L183.9,184.7" stroke-opacity="0.28" stroke-width="4.5"/><path d="M92.8,245.2 L98.1,243.4 L103.5,241.7 L108.9,240.3 L114.2,239.0 L119.6,238.0 L124.9,237.2 L130.3,236.7 L135.6,236.4 L141.0,236.3 L146.4,236.5 L151.7,236.9 L157.1,237.6 L162.4,238.5 L167.8,239.6 L173.1,240.9 L178.5,242.4 L183.9,244.1" stroke-opacity="0.28" stroke-width="4.5"/><path d="M216.0,172.5 L221.8,174.2 L227.6,176.0 L233.4,177.9 L239.1,179.7 L244.9,181.5 L250.7,183.2 L256.5,184.7 L262.3,186.2 L268.1,187.5 L273.9,188.6 L279.6,189.5 L285.4,190.2 L291.2,190.7 L297.0,191.0 L302.8,191.0 L308.6,190.7 L314.4,190.3 L320.1,189.6 L325.9,188.6 L331.7,187.5 L337.5,186.1 L343.3,184.5 L349.1,182.8 L354.9,180.9 L360.6,178.9 L366.4,176.8 L372.2,174.7 L378.0,172.5" stroke-opacity="0.25"/><path d="M216.0,256.3 L221.8,254.6 L227.6,252.8 L233.4,250.9 L239.1,249.1 L244.9,247.3 L250.7,245.6 L256.5,244.1 L262.3,242.6 L268.1,241.3 L273.9,240.2 L279.6,239.3 L285.4,238.6 L291.2,238.1 L297.0,237.8 L302.8,237.8 L308.6,238.1 L314.4,238.5 L320.1,239.2 L325.9,240.2 L331.7,241.3 L337.5,242.7 L343.3,244.3 L349.1,246.0 L354.9,247.9 L360.6,249.9 L366.4,252.0 L372.2,254.1 L378.0,256.3" stroke-opacity="0.25"/><path d="M250.7,183.2 L256.5,184.7 L262.3,186.2 L268.1,187.5 L273.9,188.6 L279.6,189.5 L285.4,190.2 L291.2,190.7 L297.0,191.0 L302.8,191.0 L308.6,190.7 L314.4,190.3 L320.1,189.6 L325.9,188.6 L331.7,187.5 L337.5,186.1 L343.3,184.5 L349.1,182.8" stroke-opacity="0.28" stroke-width="4.5"/><path d="M250.7,245.6 L256.5,244.1 L262.3,242.6 L268.1,241.3 L273.9,240.2 L279.6,239.3 L285.4,238.6 L291.2,238.1 L297.0,237.8 L302.8,237.8 L308.6,238.1 L314.4,238.5 L320.1,239.2 L325.9,240.2 L331.7,241.3 L337.5,242.7 L343.3,244.3 L349.1,246.0" stroke-opacity="0.28" stroke-width="4.5"/><path d="M378.0,172.5 L381.3,172.9 L384.6,173.5 L387.9,174.3 L391.1,175.2 L394.4,176.1 L397.7,177.0 L401.0,178.0 L404.3,179.0 L407.6,180.0 L410.9,180.9 L414.1,181.8 L417.4,182.6 L420.7,183.2 L424.0,183.8 L427.3,184.2 L430.6,184.4 L433.9,184.5 L437.1,184.4 L440.4,184.0 L443.7,183.5 L447.0,182.7 L450.3,181.7 L453.6,180.6 L456.9,179.2 L460.1,177.7 L463.4,176.1 L466.7,174.3 L470.0,172.5" stroke-opacity="0.25"/><path d="M378.0,256.3 L381.3,255.9 L384.6,255.3 L387.9,254.5 L391.1,253.6 L394.4,252.7 L397.7,251.8 L401.0,250.8 L404.3,249.8 L407.6,248.8 L410.9,247.9 L414.1,247.0 L417.4,246.2 L420.7,245.6 L424.0,245.0 L427.3,244.6 L430.6,244.4 L433.9,244.3 L437.1,244.4 L440.4,244.8 L443.7,245.3 L447.0,246.1 L450.3,247.1 L453.6,248.2 L456.9,249.6 L460.1,251.1 L463.4,252.7 L466.7,254.5 L470.0,256.3" stroke-opacity="0.25"/><path d="M404.3,179.0 L407.6,180.0 L410.9,180.9 L414.1,181.8 L417.4,182.6 L420.7,183.2 L424.0,183.8 L427.3,184.2 L430.6,184.4 L433.9,184.5 L437.1,184.4 L440.4,184.0 L443.7,183.5 L447.0,182.7 L450.3,181.7 L453.6,180.6 L456.9,179.2 L460.1,177.7" stroke-opacity="0.28" stroke-width="4.5"/><path d="M404.3,249.8 L407.6,248.8 L410.9,247.9 L414.1,247.0 L417.4,246.2 L420.7,245.6 L424.0,245.0 L427.3,244.6 L430.6,244.4 L433.9,244.3 L437.1,244.4 L440.4,244.8 L443.7,245.3 L447.0,246.1 L450.3,247.1 L453.6,248.2 L456.9,249.6 L460.1,251.1" stroke-opacity="0.28" stroke-width="4.5"/><path d="M58.0,214.4 L63.6,212.9 L69.1,211.4 L74.7,209.9 L80.3,208.5 L85.9,207.2 L91.4,206.0 L97.0,204.9 L102.6,203.8 L108.1,203.0 L113.7,202.2 L119.3,201.7 L124.9,201.2 L130.4,201.0 L136.0,200.9 L141.6,201.0 L147.1,201.2 L152.7,201.7 L158.3,202.2 L163.9,203.0 L169.4,203.8 L175.0,204.9 L180.6,206.0 L186.1,207.2 L191.7,208.5 L197.3,209.9 L202.9,211.4 L208.4,212.9 L214.0,214.4" stroke-opacity="0.3"/><path d="M58.0,214.4 L63.6,215.9 L69.1,217.4 L74.7,218.9 L80.3,220.3 L85.9,221.6 L91.4,222.8 L97.0,223.9 L102.6,225.0 L108.1,225.8 L113.7,226.6 L119.3,227.1 L124.9,227.6 L130.4,227.8 L136.0,227.9 L141.6,227.8 L147.1,227.6 L152.7,227.1 L158.3,226.6 L163.9,225.8 L169.4,225.0 L175.0,223.9 L180.6,222.8 L186.1,221.6 L191.7,220.3 L197.3,218.9 L202.9,217.4 L208.4,215.9 L214.0,214.4" stroke-opacity="0.3"/><path d="M214.0,214.4 L220.2,212.6 L226.4,210.8 L232.6,209.1 L238.9,207.5 L245.1,205.9 L251.3,204.4 L257.5,203.1 L263.7,201.9 L269.9,200.9 L276.1,200.0 L282.4,199.3 L288.6,198.8 L294.8,198.5 L301.0,198.4 L307.2,198.5 L313.4,198.8 L319.6,199.3 L325.9,200.0 L332.1,200.9 L338.3,201.9 L344.5,203.1 L350.7,204.4 L356.9,205.9 L363.1,207.5 L369.4,209.1 L375.6,210.8 L381.8,212.6 L388.0,214.4" stroke-opacity="0.3"/><path d="M214.0,214.4 L220.2,216.2 L226.4,218.0 L232.6,219.7 L238.9,221.3 L245.1,222.9 L251.3,224.4 L257.5,225.7 L263.7,226.9 L269.9,227.9 L276.1,228.8 L282.4,229.5 L288.6,230.0 L294.8,230.3 L301.0,230.4 L307.2,230.3 L313.4,230.0 L319.6,229.5 L325.9,228.8 L332.1,227.9 L338.3,226.9 L344.5,225.7 L350.7,224.4 L356.9,222.9 L363.1,221.3 L369.4,219.7 L375.6,218.0 L381.8,216.2 L388.0,214.4" stroke-opacity="0.3"/><path d="M-100.0,214.4 L-94.4,213.1 L-88.7,211.7 L-83.1,210.4 L-77.4,209.2 L-71.8,208.0 L-66.1,206.9 L-60.5,205.9 L-54.9,205.0 L-49.2,204.2 L-43.6,203.6 L-37.9,203.1 L-32.3,202.7 L-26.6,202.5 L-21.0,202.4 L-15.4,202.5 L-9.7,202.7 L-4.1,203.1 L1.6,203.6 L7.2,204.2 L12.9,205.0 L18.5,205.9 L24.1,206.9 L29.8,208.0 L35.4,209.2 L41.1,210.4 L46.7,211.7 L52.4,213.1 L58.0,214.4" stroke-opacity="0.3"/><path d="M-100.0,214.4 L-94.4,215.7 L-88.7,217.1 L-83.1,218.4 L-77.4,219.6 L-71.8,220.8 L-66.1,221.9 L-60.5,222.9 L-54.9,223.8 L-49.2,224.6 L-43.6,225.2 L-37.9,225.7 L-32.3,226.1 L-26.6,226.3 L-21.0,226.4 L-15.4,226.3 L-9.7,226.1 L-4.1,225.7 L1.6,225.2 L7.2,224.6 L12.9,223.8 L18.5,222.9 L24.1,221.9 L29.8,220.8 L35.4,219.6 L41.1,218.4 L46.7,217.1 L52.4,215.7 L58.0,214.4" stroke-opacity="0.3"/></g><g filter="url(#bl1)"><ellipse cx="127.0" cy="110.8" rx="45.9" ry="5.2" fill="url(#gM)"/><ellipse cx="127.0" cy="318.0" rx="45.9" ry="5.2" fill="url(#gM)"/><ellipse cx="298.0" cy="109.3" rx="43.2" ry="5.2" fill="url(#gM)"/><ellipse cx="298.0" cy="319.5" rx="43.2" ry="5.2" fill="url(#gM)"/><ellipse cx="460.0" cy="109.5" rx="45.9" ry="5.2" fill="url(#gM)"/><ellipse cx="460.0" cy="319.3" rx="45.9" ry="5.2" fill="url(#gM)"/><ellipse cx="133.0" cy="155.5" rx="48.6" ry="5.2" fill="url(#gM)" transform="rotate(-5.0 133.0 155.5)"/><ellipse cx="133.0" cy="273.3" rx="48.6" ry="5.2" fill="url(#gM)" transform="rotate(5.0 133.0 273.3)"/><ellipse cx="288.0" cy="156.0" rx="54.0" ry="5.2" fill="url(#gM)" transform="rotate(-5.0 288.0 156.0)"/><ellipse cx="288.0" cy="272.8" rx="54.0" ry="5.2" fill="url(#gM)" transform="rotate(5.0 288.0 272.8)"/><ellipse cx="458.0" cy="153.0" rx="45.9" ry="5.2" fill="url(#gD)" transform="rotate(-5.0 458.0 153.0)"/><ellipse cx="458.0" cy="275.8" rx="45.9" ry="5.2" fill="url(#gD)" transform="rotate(5.0 458.0 275.8)"/><ellipse cx="140.0" cy="192.5" rx="43.2" ry="5.2" fill="url(#gL)"/><ellipse cx="140.0" cy="236.3" rx="43.2" ry="5.2" fill="url(#gL)"/><ellipse cx="300.0" cy="191.5" rx="54.0" ry="5.2" fill="url(#gL)"/><ellipse cx="300.0" cy="237.3" rx="54.0" ry="5.2" fill="url(#gL)"/><ellipse cx="207.0" cy="133.3" rx="45.9" ry="5.8" fill="url(#gD)"/><ellipse cx="207.0" cy="295.5" rx="45.9" ry="5.8" fill="url(#gD)"/><ellipse cx="372.0" cy="131.5" rx="45.9" ry="5.8" fill="url(#gD)"/><ellipse cx="372.0" cy="297.3" rx="45.9" ry="5.8" fill="url(#gD)"/><ellipse cx="66.0" cy="131.0" rx="18.9" ry="5.8" fill="url(#gM)"/><ellipse cx="66.0" cy="297.8" rx="18.9" ry="5.8" fill="url(#gM)"/><ellipse cx="66.0" cy="171.5" rx="27.0" ry="5.8" fill="url(#gD)"/><ellipse cx="66.0" cy="257.3" rx="27.0" ry="5.8" fill="url(#gD)"/><ellipse cx="216.0" cy="173.5" rx="48.6" ry="5.8" fill="url(#gD)"/><ellipse cx="216.0" cy="255.3" rx="48.6" ry="5.8" fill="url(#gD)"/><ellipse cx="378.0" cy="172.5" rx="45.9" ry="5.8" fill="url(#gD)"/><ellipse cx="378.0" cy="256.3" rx="45.9" ry="5.8" fill="url(#gD)"/><ellipse cx="215.0" cy="88.0" rx="45.9" ry="6.3" fill="url(#gF)"/><ellipse cx="215.0" cy="340.8" rx="45.9" ry="6.3" fill="url(#gF)"/><ellipse cx="395.0" cy="88.5" rx="32.4" ry="5.2" fill="url(#gF)"/><ellipse cx="395.0" cy="340.3" rx="32.4" ry="5.2" fill="url(#gF)"/><ellipse cx="460.0" cy="68.0" rx="43.2" ry="5.2" fill="url(#gF)"/><ellipse cx="460.0" cy="360.8" rx="43.2" ry="5.2" fill="url(#gF)"/></g><g filter="url(#bl1)"><ellipse cx="205.0" cy="133.0" rx="13.0" ry="1.6" fill="#2f7dbd"/><ellipse cx="205.0" cy="295.8" rx="13.0" ry="1.6" fill="#2f7dbd"/><ellipse cx="372.0" cy="131.5" rx="13.0" ry="1.6" fill="#2f7dbd"/><ellipse cx="372.0" cy="297.3" rx="13.0" ry="1.6" fill="#2f7dbd"/><ellipse cx="216.0" cy="214.4" rx="18.0" ry="6.0" fill="#8cbfe0"/><ellipse cx="215.0" cy="214.4" rx="10.0" ry="4.0" fill="#5d9fd0"/><ellipse cx="214.0" cy="214.4" rx="4.5" ry="2.5" fill="#2a78b9"/><ellipse cx="177.0" cy="214.4" rx="4.0" ry="2.5" fill="#a4cbe5" fill-opacity="0.5"/><ellipse cx="246.0" cy="214.4" rx="3.2" ry="2.0" fill="#a4cbe5" fill-opacity="0.5"/><ellipse cx="286.0" cy="214.4" rx="4.0" ry="2.5" fill="#a4cbe5" fill-opacity="0.5"/><ellipse cx="318.0" cy="214.4" rx="4.0" ry="2.5" fill="#a4cbe5" fill-opacity="0.5"/><ellipse cx="340.0" cy="214.4" rx="3.2" ry="2.0" fill="#a4cbe5" fill-opacity="0.5"/></g><g filter="url(#bl5)"><ellipse cx="382.0" cy="214.4" rx="34.0" ry="13.0" fill="#8fc0e0"/></g><path d="M410.0,214.4 L412.0,210.5 L415.0,207.0 L418.0,204.6 L422.0,202.0 L427.0,199.8 L432.0,198.3 L436.0,197.2 L442.0,195.6 L448.0,194.2 L454.0,193.0 L460.0,192.0 L466.0,191.3 L472.0,190.9 L480.0,190.6 L488.0,190.6 L494.0,191.4 L500.0,193.5 L505.0,198.0 L507.5,205.0 L508.5,214.4 L508.5,214.4 L507.5,223.8 L505.0,230.8 L500.0,235.3 L494.0,237.4 L488.0,238.2 L480.0,238.2 L472.0,237.9 L466.0,237.5 L460.0,236.8 L454.0,235.8 L448.0,234.6 L442.0,233.2 L436.0,231.6 L432.0,230.5 L427.0,229.0 L422.0,226.8 L418.0,224.2 L415.0,221.8 L412.0,218.3 L410.0,214.4 Z" fill="#f6fafe" filter="url(#bl15)"/><g filter="url(#bl3)" fill="#4d95cb" fill-opacity="0.6"><path d="M436,180 C452,180.5 468,181.5 482,184 C489,185.5 493,188 496,192 C490,191.5 482,191 474,190.5 C462,189.5 450,188 436,186 Z"/><path d="M436,180 C452,180.5 468,181.5 482,184 C489,185.5 493,188 496,192 C490,191.5 482,191 474,190.5 C462,189.5 450,188 436,186 Z" transform="translate(0,428.8) scale(1,-1)"/></g><g filter="url(#bl1)"><path d="M444,182.6 C454,182.8 465,183.6 476,184.8 C485,185.9 491,187.6 494.5,191.0 C490,190.4 484,189.6 476,189.0 C466,188.2 455,186.0 444,183.6 Z" fill="#0a4a92"/><path d="M444,182.6 C454,182.8 465,183.6 476,184.8 C485,185.9 491,187.6 494.5,191.0 C490,190.4 484,189.6 476,189.0 C466,188.2 455,186.0 444,183.6 Z" fill="#0a4a92" transform="translate(0,428.8) scale(1,-1)"/></g><g filter="url(#bl3)"><ellipse cx="384.0" cy="214.1" rx="24.0" ry="9.0" fill="#5b9ecf" fill-opacity="0.75"/></g><path d="M365.6,214 C365.6,210 371,209 384,208.9 C397,208.9 406,211.2 411,213.9 C406,216.8 397,219.4 384,219.5 C371,219.5 365.6,218.2 365.6,214 Z" fill="#08306b" filter="url(#bl08)"/><ellipse cx="499.5" cy="213.6" rx="40" ry="40" fill="url(#gRedA)"/><ellipse cx="497" cy="132" rx="18" ry="18" fill="url(#gRedF)"/><ellipse cx="497" cy="295" rx="18" ry="18" fill="url(#gRedF)"/><ellipse cx="510" cy="166" rx="13" ry="13" fill="url(#gRedF)"/><ellipse cx="508" cy="259" rx="13" ry="13" fill="url(#gRedF)"/><path d="M493.5,81.6 L497.2,82.8 M494.3,88.2 C493.8,91.5 492.5,94.5 491.3,97.4 M489.3,102.4 C488.6,106 488.2,109.5 488.3,112.6 M490.3,116.6 C492,119.5 494.5,121.5 496.4,124.3 M496.6,129.2 C496,132.5 494.5,135.5 492.7,137.9 M491.9,143 C491,146 490,149 489.3,152.1 M510.8,159.2 C509,161 507.8,163.5 507,166.3 M505.9,172 C505.3,175.5 504.8,179 504.5,182 M494,191 C495.8,192.5 496.8,194.5 497,196.6 M498.2,200.5 L498.8,211.6 M498.8,216.3 L498.5,227.3 M498.6,232 C497,234.5 495.5,236.5 494.6,239.5 M503.4,249.6 L506.1,257.7 M506.8,263.1 L510.4,271.9 M489.1,279 L489.6,281 M491.3,285.2 C492.5,288 493.5,291 494.3,294.3 M496,299.4 C496.2,302.5 495.8,305.5 494.7,308.5 M491.3,313.6 C490,316 489,318.5 488.2,320.7 M489.3,327.8 C490.5,330.5 491.5,333 492.3,335.9 M494,341 C494.5,344 495,347 495.3,349.5" stroke="#000" stroke-width="3" fill="none"/></g>
<g clip-path="url(#clipB)"><rect x="563.1" y="44.0" width="102.9" height="341.5" fill="#f5f9fe"/><ellipse cx="623.8" cy="214.2" rx="32" ry="32" fill="url(#gRedB)"/><ellipse cx="622" cy="63.5" rx="22" ry="14" fill="url(#gRedBF)" opacity="0.45"/><ellipse cx="622" cy="99.5" rx="24" ry="16" fill="url(#gRedBF)" opacity="0.8"/><ellipse cx="623" cy="135.4" rx="25" ry="17" fill="url(#gRedBF)" opacity="0.9"/><ellipse cx="624.7" cy="256" rx="24" ry="13" fill="url(#gRedBF)" opacity="0.65"/><ellipse cx="624.7" cy="292" rx="25" ry="17" fill="url(#gRedBF)" opacity="0.9"/><ellipse cx="621" cy="328" rx="24" ry="16" fill="url(#gRedBF)" opacity="0.7"/><ellipse cx="620" cy="366" rx="22" ry="14" fill="url(#gRedBF)" opacity="0.45"/><path d="M618.6,89.9 L618.6,93 M618.5,97.1 L618.5,108.8 M617.3,113.3 C616.5,116.5 616.5,120 617.0,123.2 M618.5,127.2 C619,131 619,135.5 618.6,139.5 M618.9,142.2 C619,146 618.8,149.5 617.2,153 M623.3,167.8 L623.3,179.2 M621.5,195.1 L621.5,206.4 M621.5,211.4 L621.5,222.2 M621.5,226.9 L621.5,237.7 M624.0,252.7 L623.4,263.0 C623,264 622,264.5 621.2,264.8 M619.2,277.7 L618.3,281 M619.4,285.6 L619.2,296.9 M618.8,302.5 C617.8,305 617.4,308 617.6,310.9 M618.3,316 C619.5,319 619.6,322.5 619.3,326.2 M618.7,329.6 L618.7,340.9" stroke="#000" stroke-width="3" fill="none"/></g>
<path d="M67.20 27V32.8 M126.80 27V32.8 M186.85 27V32.8 M246.40 27V32.8 M306.00 27V32.8 M425.80 27V32.8 M507.90 27V32.8 M590.20 27V32.8 M66.9 80.10H73.1 M563.1 80.10H569.3 M66.9 147.85H73.1 M563.1 147.85H569.3 M66.9 215.60H73.1 M563.1 215.60H569.3 M66.9 283.35H73.1 M563.1 283.35H569.3 M66.9 351.10H73.1 M563.1 351.10H569.3 M66.80 378.8V384.5 M151.68 378.8V384.5 M236.55 378.8V384.5 M321.43 378.8V384.5 M406.30 378.8V384.5 M491.18 378.8V384.5 M596.90 379.6V385.5 M664.80 379.6V385.5" stroke="#000" stroke-width="2.2" fill="none"/>
<g fill="#000" stroke="#000" stroke-width="0.35" opacity="0.999"><text transform="translate(59.93,21.10) scale(1.0734,1)" font-size="20.30" style="">0</text><text transform="translate(120.00,21.10) scale(0.9852,1)" font-size="20.30" style="">1</text><text transform="translate(180.37,21.10) scale(1.1151,1)" font-size="20.30" style="">2</text><text transform="translate(240.31,21.10) scale(1.0900,1)" font-size="20.30" style="">3</text><text transform="translate(300.17,21.10) scale(1.0443,1)" font-size="20.30" style="">4</text><text transform="translate(24.33,88.66) scale(1.1085,1)" font-size="24.08" style="">40</text><text transform="translate(23.84,156.55) scale(1.0712,1)" font-size="25.35" style="">20</text><text transform="translate(38.97,224.54) scale(1.0496,1)" font-size="25.77" style="">0</text><text transform="translate(6.74,292.05) scale(1.1830,1)" font-size="24.65" style="">−20</text><text transform="translate(6.95,359.55) scale(1.1780,1)" font-size="24.65" style="">−40</text><text transform="translate(58.21,413.05) scale(1.0894,1)" font-size="24.93" style="">0</text><text transform="translate(135.15,413.05) scale(1.0815,1)" font-size="24.93" style="">25</text><text transform="translate(220.33,413.05) scale(1.0749,1)" font-size="24.93" style="">50</text><text transform="translate(304.97,413.05) scale(1.0507,1)" font-size="25.29" style="">75</text><text transform="translate(381.31,413.05) scale(1.1180,1)" font-size="24.93" style="">100</text><text transform="translate(466.16,413.05) scale(1.0921,1)" font-size="24.93" style="">125</text><text transform="translate(572.86,413.15) scale(1.0983,1)" font-size="24.79" style="">120</text><text transform="translate(641.26,413.15) scale(1.0411,1)" font-size="24.79" style="">140</text><text transform="translate(77.20,67.64) scale(0.8392,1)" font-size="19.79" style="">(</text><text transform="translate(84.78,68.90) scale(0.8983,1)" font-size="20.30" style="">a</text><text transform="translate(98.02,67.64) scale(0.9136,1)" font-size="19.79" style="">)</text><text transform="translate(565.63,67.80) scale(0.8523,1)" font-size="19.04" style="">(</text><text transform="translate(573.10,68.90) scale(0.9852,1)" font-size="20.30" style="">b</text><text transform="translate(587.03,67.80) scale(0.8889,1)" font-size="19.04" style="">)</text><text transform="translate(245.21,437.70) scale(0.9148,1)" font-size="23.20" style="font-style:italic;">z</text><text transform="translate(262.88,437.70) scale(1.3064,1)" font-size="23.20" style="">−</text><text transform="translate(286.39,437.70) scale(1.2403,1)" font-size="23.20" style="font-style:italic;">ct</text><text transform="translate(308.77,437.70) scale(1.5948,1)" font-size="23.20" style="">,</text><text transform="translate(322.97,437.70) scale(1.1879,1)" font-size="23.20" style="">µm</text><text transform="translate(554.61,437.70) scale(0.9148,1)" font-size="23.20" style="font-style:italic;">z</text><text transform="translate(572.28,437.70) scale(1.3064,1)" font-size="23.20" style="">−</text><text transform="translate(595.79,437.70) scale(1.2403,1)" font-size="23.20" style="font-style:italic;">ct</text><text transform="translate(618.17,437.70) scale(1.5948,1)" font-size="23.20" style="">,</text><text transform="translate(632.37,437.70) scale(1.1879,1)" font-size="23.20" style="">µm</text><text transform="translate(13.70,248.80) rotate(-90) scale(1.0757,1)" font-size="23.20" style="font-style:italic;">x</text><text transform="translate(13.70,236.30) rotate(-90) scale(1.2931,1)" font-size="23.20" style="">,</text><text transform="translate(13.70,220.20) rotate(-90) scale(1.1709,1)" font-size="23.20" style="">µm</text><text transform="translate(3.78,35.80) scale(0.9603,1)" font-size="22.30" style="font-style:italic;">n</text><text transform="translate(16.66,38.60) scale(0.9157,1)" font-size="15.50" style="">e</text><text transform="translate(25.60,35.80) scale(1.0110,1)" font-size="22.30" style="">/</text><text transform="translate(32.27,35.80) scale(0.9965,1)" font-size="22.30" style="font-style:italic;">n</text><text transform="translate(44.67,39.00) scale(1.0187,1)" font-size="15.50" style="">0</text><text transform="translate(333.28,31.00) scale(1.1385,1)" font-size="20.30" style="font-style:italic;">I</text><text transform="translate(339.80,31.00) scale(1.0954,1)" font-size="20.30" style="">, W/cm</text><text transform="translate(409.06,29.80) scale(1.1425,1)" font-size="19.29" style="">²</text><text transform="translate(419.16,21.00) scale(1.0371,1)" font-size="20.30" style="">0</text><text transform="translate(465.91,17.90) scale(1.0741,1)" font-size="20.30" style="">2 × 10</text><text transform="translate(528.64,10.30) scale(1.1055,1)" font-size="14.00" style="">18</text><text transform="translate(548.55,17.90) scale(1.0805,1)" font-size="20.30" style="">4 × 10</text><text transform="translate(611.39,10.30) scale(1.0553,1)" font-size="14.00" style="">18</text></g>
</svg></body></html>
